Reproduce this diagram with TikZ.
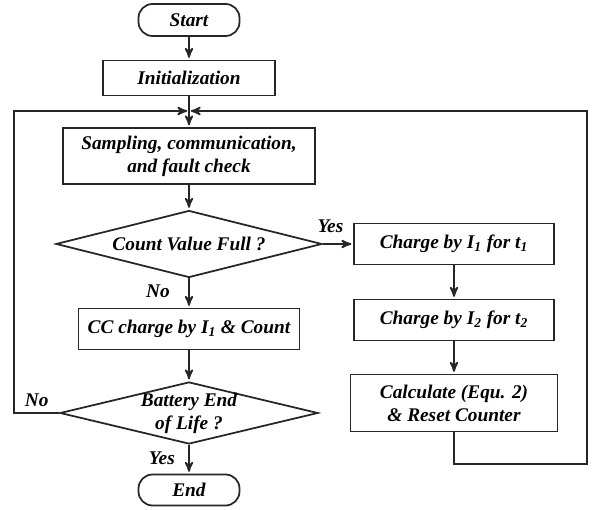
\documentclass[tikz,border=0pt]{standalone}
\usepackage{fontspec}
\setmainfont{Liberation Serif}
\usetikzlibrary{arrows,shapes}

\begin{document}
\begin{tikzpicture}[>=stealth',->,shorten >=1pt,line width=1pt,draw=black!85,
        font=\fontsize{11}{13}\selectfont\bfseries\itshape,
        proc/.style={rectangle,draw=black!85,minimum height=0.82cm,inner sep=2pt},
        term/.style={rectangle,rounded corners=0.28cm,draw=black!85,minimum width=2.02cm,minimum height=0.64cm},
        decision/.style={diamond,draw=black!85,inner sep=0pt,aspect=4}]

        \useasboundingbox (0,0) rectangle (11.86,-10.2);

        \node [term]  (start) at (3.78,-0.40) {Start};
        \node [proc,minimum width=3.44cm,minimum height=0.7cm] (init) [below of=start, node distance=1.16cm] {Initialization};
        \node [proc,minimum width=5.04cm,minimum height=1.12cm,align=center] (samp) [below of=init, node distance=1.56cm] {Sampling, communication,\\and fault check};
        \node [decision,minimum width=5.32cm,minimum height=1.34cm] (full) [below of=samp, node distance=1.76cm] {Count Value Full ?};
        \node [proc,minimum width=4.42cm] (cc)  [below of=full, node distance=1.7cm]  {CC charge by I\textsubscript{1} \& Count};
        \node [decision,minimum width=5.16cm,minimum height=1.24cm] (eol) [below of=cc, node distance=1.68cm] {};
        \node [align=center] (eoltxt) at (eol) {Battery End\\of Life ?};
        \node [term,minimum height=0.62cm] (end) [below of=eol, node distance=1.54cm] {End};
        \node [proc,minimum width=4cm] (ch1) [right of=full, node distance=5.3cm]  {Charge by I\textsubscript{1} for t\textsubscript{1}};
        \node [proc,minimum width=4cm] (ch2) [below of=ch1, node distance=1.52cm]  {Charge by I\textsubscript{2} for t\textsubscript{2}};
        \node [proc,minimum width=4.14cm,minimum height=1.14cm,align=center] (calc) [below of=ch2, node distance=1.66cm] {Calculate (Equ. 2)\\\& Reset Counter};

        \path (init)+(0,-0.66) coordinate (m);
        \coordinate (r) at (11.74,-9.28);

        \path
          (start) edge (init)
          (init) edge (samp)
          (samp) edge (full)
          (full) edge node[above,pos=.25,yshift=.1cm] {Yes} (ch1)
          (full) edge node[left,pos=.45,xshift=-.25cm] {No} (cc)
          (ch1) edge (ch2)
          (ch2) edge (calc)
          (cc) edge (eol)
          (eol) edge node[left,pos=.45,xshift=-.15cm] {Yes} (end)
        ;

        \draw (eol.west) -- node[above] {No} ++(-0.9,0) |- (m);
        \draw (calc.south) |- (r) |- (m);
      \end{tikzpicture}
\end{document}
